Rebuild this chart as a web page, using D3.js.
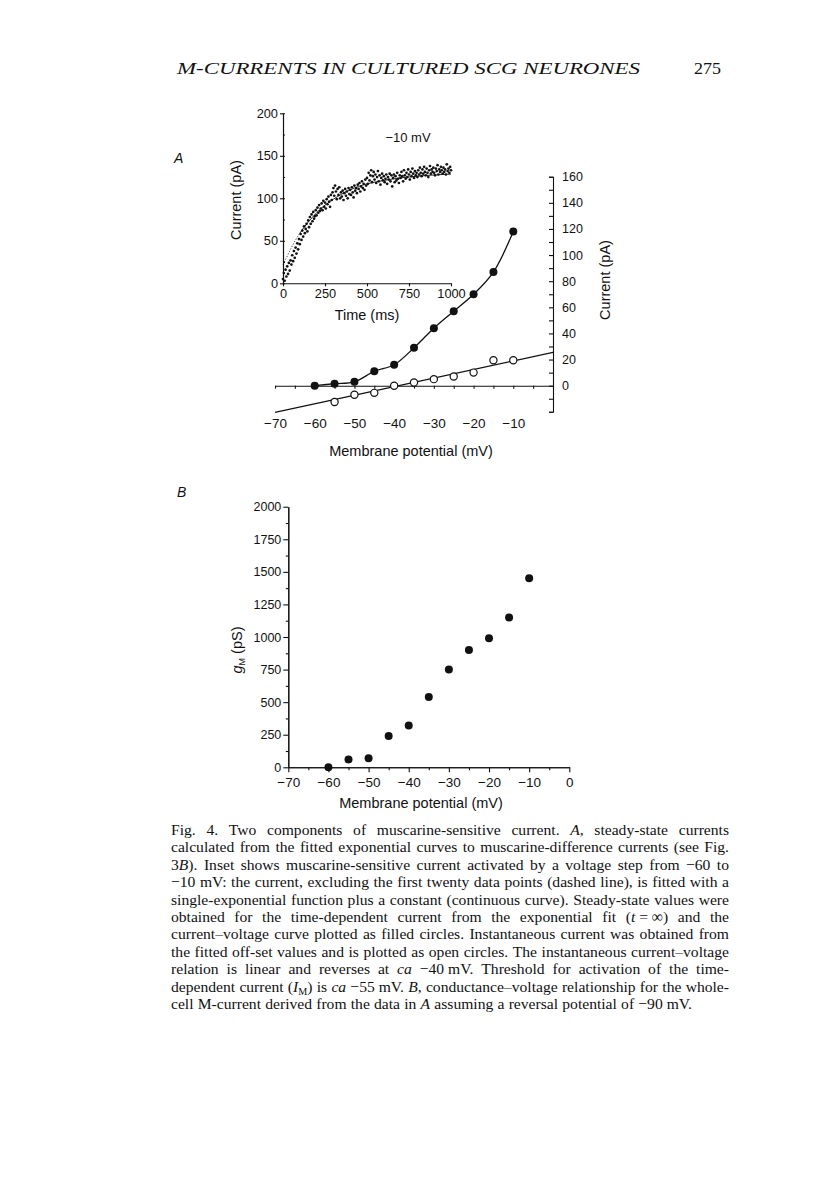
<!DOCTYPE html>
<html>
<head>
<meta charset="utf-8">
<script src="https://cdn.jsdelivr.net/npm/d3@7"></script>
<style>
  body { margin: 0; background: #fff; }
</style>
</head>
<body>
<script>
(function () {
  // panel A, main plot: steady-state (filled) and instantaneous (open) currents
  var voltages = [-60, -55, -50, -45, -40, -35, -30, -25, -20, -15, -10];
  var steadyCurrent = [0, 1.5, 3, 11, 16, 29, 44, 57, 70, 87, 118];
  var instVoltages = [-55, -50, -45, -40, -35, -30, -25, -20, -15, -10];
  var instCurrent = [-12.5, -7, -5.5, 0, 2.5, 5, 7, 10, 19.5, 19.5];
  var instFitV = [-70, 0];
  var instFitI = [-20.5, 25.5];

  // panel A, inset: current trace at -10 mV, one sample every 5 ms
  var sampleMs = 5;
  var traceCurrent = [
    5, 12, 3, 16, 8, 20, 11, 24, 15, 27,
    22, 33, 26, 38, 30, 42, 35, 47, 40, 52,
    46, 58, 51, 62, 55, 67, 59, 64, 70, 61,
    74, 66, 78, 70, 81, 73, 84, 76, 79, 86,
    80, 89, 83, 92, 85, 88, 94, 86, 97, 90,
    95, 88, 99, 93, 102, 96, 90, 104, 98, 107,
    112, 103, 115, 108, 99, 111, 104, 113, 100, 107,
    102, 109, 98, 106, 111, 103, 108, 100, 112, 105,
    110, 104, 113, 107, 101, 115, 109, 112, 106, 116,
    111, 118, 108, 114, 120, 112, 117, 110, 122, 115,
    124, 117, 130, 121, 127, 133, 119, 126, 131, 122,
    128, 118, 125, 132, 120, 127, 116, 124, 129, 121,
    126, 119, 123, 128, 117, 125, 122, 129, 120, 127,
    114, 124, 128, 119, 126, 121, 130, 123, 118, 127,
    124, 131, 126, 120, 133, 127, 123, 130, 125, 134,
    128, 122, 131, 126, 135, 129, 124, 132, 127, 130,
    125, 133, 128, 136, 130, 126, 134, 129, 137, 131,
    127, 135, 130, 125, 133, 138, 129, 134, 131, 136,
    130, 127, 135, 132, 139, 128, 134, 131, 137, 133,
    129, 136, 131, 134, 128, 140, 132, 135, 130, 137,
    133
  ];
  var fitTime = [0, 25, 50, 75, 100, 150, 200, 250, 300, 350, 400, 450, 500, 600, 700, 800, 900, 1000];
  var fitCurrent = [22, 32, 42, 51, 59, 72, 83, 92, 99, 105, 110, 114, 117, 121, 124, 126, 127.5, 128.5];
  var fitDashedUntil = 100;

  // panel B: conductance
  var conductance = [0, 60, 70, 240, 320, 540, 750, 900, 990, 1150, 1450];

  var headerTitle = "M-CURRENTS IN CULTURED SCG NEURONES";
  var pageNumber = "275";
  var captionLines = [
    "Fig. 4. Two components of muscarine-sensitive current. *A*, steady-state currents",
    "calculated from the fitted exponential curves to muscarine-difference currents (see Fig.",
    "3*B*). Inset shows muscarine-sensitive current activated by a voltage step from \u221260 to",
    "\u221210 mV: the current, excluding the first twenty data points (dashed line), is fitted with a",
    "single-exponential function plus a constant (continuous curve). Steady-state values were",
    "obtained for the time-dependent current from the exponential fit (*t*\u00a0=\u00a0\u221e) and the",
    "current\u2013voltage curve plotted as filled circles. Instantaneous current was obtained from",
    "the fitted off-set values and is plotted as open circles. The instantaneous current\u2013voltage",
    "relation is linear and reverses at *ca* \u221240\u00a0mV. Threshold for activation of the time-",
    "dependent current (*I*_M_) is *ca* \u221255\u00a0mV. *B*, conductance\u2013voltage relationship for the whole-",
    "cell M-current derived from the data in *A* assuming a reversal potential of \u221290\u00a0mV."
  ];

  var sans = "'Liberation Sans', Arial, Helvetica, sans-serif";
  var serif = "'Liberation Serif', 'Times New Roman', serif";
  var ink = "#111";
  var plain = d3.format("d");

  var svg = d3.select("body")
    .append("svg")
    .attr("width", 816)
    .attr("height", 1181);

  var styleAxis = function (g, size) {
    g.attr("font-family", sans).attr("font-size", size);
    g.selectAll("path, line").attr("stroke", ink).attr("stroke-width", 1.1);
    g.selectAll("text").attr("fill", ink);
    return g;
  };

  // header
  svg.append("text")
    .attr("x", 177).attr("y", 74)
    .attr("font-family", serif).attr("font-style", "italic").attr("font-size", 17)
    .attr("textLength", 463).attr("lengthAdjust", "spacingAndGlyphs")
    .attr("fill", ink)
    .text(headerTitle);
  svg.append("text")
    .attr("x", 694).attr("y", 74)
    .attr("font-family", serif).attr("font-size", 17)
    .attr("textLength", 27).attr("lengthAdjust", "spacingAndGlyphs")
    .attr("fill", ink)
    .text(pageNumber);

  // ---- panel A main ----
  var xA = d3.scaleLinear().domain([-70, 0]).range([275, 553]);
  var yA = d3.scaleLinear().domain([-20, 160]).range([411.8, 176.7]);

  styleAxis(svg.append("g")
    .attr("transform", "translate(0," + yA(0) + ")")
    .call(d3.axisBottom(xA).tickValues(d3.range(-70, 1, 5)).tickSize(3).tickSizeOuter(0).tickFormat("")), 13);

  var labA = svg.append("g")
    .attr("transform", "translate(0,412)")
    .call(d3.axisBottom(xA).tickValues(d3.range(-70, -9, 10)).tickSize(0).tickPadding(6));
  labA.select(".domain").remove();
  styleAxis(labA, 13.5);

  styleAxis(svg.append("g")
    .attr("transform", "translate(" + xA(0) + ",0)")
    .call(d3.axisRight(yA).tickValues(d3.range(-20, 161, 10)).tickSize(-4).tickSizeOuter(-4).tickPadding(9)
      .tickFormat(function (d) { return d >= 0 && d % 20 === 0 ? d : ""; })), 12.5);

  svg.append("text")
    .attr("transform", "translate(610,280) rotate(-90)")
    .attr("text-anchor", "middle")
    .attr("font-family", sans).attr("font-size", 14.5).attr("fill", ink)
    .text("Current (pA)");

  svg.append("text")
    .attr("x", 411).attr("y", 456)
    .attr("text-anchor", "middle")
    .attr("font-family", sans).attr("font-size", 14.5).attr("fill", ink)
    .text("Membrane potential (mV)");

  svg.append("path")
    .datum(instFitV)
    .attr("fill", "none").attr("stroke", ink).attr("stroke-width", 1.3)
    .attr("d", d3.line()
      .x(function (d) { return xA(d); })
      .y(function (d, i) { return yA(instFitI[i]); }));

  svg.append("path")
    .datum(voltages)
    .attr("fill", "none").attr("stroke", ink).attr("stroke-width", 1.3)
    .attr("d", d3.line()
      .curve(d3.curveCatmullRom.alpha(0.5))
      .x(function (d) { return xA(d); })
      .y(function (d, i) { return yA(steadyCurrent[i]); }));

  svg.selectAll("circle.inst")
    .data(instVoltages)
  .enter()
    .append("circle")
    .attr("class", "inst")
    .attr("r", 3.6)
    .attr("fill", "#fff").attr("stroke", ink).attr("stroke-width", 1.2)
    .attr("cx", function (d) { return xA(d); })
    .attr("cy", function (d, i) { return yA(instCurrent[i]); });

  svg.selectAll("circle.steady")
    .data(voltages)
  .enter()
    .append("circle")
    .attr("class", "steady")
    .attr("r", 4)
    .attr("fill", ink)
    .attr("cx", function (d) { return xA(d); })
    .attr("cy", function (d, i) { return yA(steadyCurrent[i]); });

  svg.append("text")
    .attr("x", 174).attr("y", 163)
    .attr("font-family", sans).attr("font-style", "italic").attr("font-size", 14).attr("fill", ink)
    .text("A");

  // ---- panel A inset ----
  var xI = d3.scaleLinear().domain([0, 1000]).range([283, 451]);
  var yI = d3.scaleLinear().domain([0, 200]).range([283.3, 113.3]);

  styleAxis(svg.append("g")
    .attr("transform", "translate(" + xI(0) + ",0)")
    .call(d3.axisRight(yI).tickValues(d3.range(0, 201, 25)).tickSize(2).tickSizeOuter(0).tickFormat("")), 13);
  styleAxis(svg.append("g")
    .attr("transform", "translate(" + xI(0) + ",0)")
    .call(d3.axisLeft(yI).tickValues([0, 50, 100, 150, 200]).tickSize(3).tickSizeOuter(0).tickPadding(2).tickFormat(plain)), 12.8);
  styleAxis(svg.append("g")
    .attr("transform", "translate(0," + yI(0) + ")")
    .call(d3.axisBottom(xI).tickValues([0, 250, 500, 750, 1000]).tickSize(3).tickSizeOuter(0).tickPadding(3).tickFormat(plain)), 12.8);

  svg.append("text")
    .attr("transform", "translate(241,200) rotate(-90)")
    .attr("text-anchor", "middle")
    .attr("font-family", sans).attr("font-size", 14.5).attr("fill", ink)
    .text("Current (pA)");
  svg.append("text")
    .attr("x", 367).attr("y", 320)
    .attr("text-anchor", "middle")
    .attr("font-family", sans).attr("font-size", 14.5).attr("fill", ink)
    .text("Time (ms)");
  svg.append("text")
    .attr("x", 408).attr("y", 142)
    .attr("text-anchor", "middle")
    .attr("font-family", sans).attr("font-size", 13).attr("fill", ink)
    .text("\u221210 mV");

  var fitLine = d3.line()
    .curve(d3.curveMonotoneX)
    .x(function (d) { return xI(d.t); })
    .y(function (d) { return yI(d.i); });
  var fitPts = fitTime.map(function (t, k) { return { t: t, i: fitCurrent[k] }; });

  svg.append("path")
    .datum(fitPts.filter(function (d) { return d.t <= fitDashedUntil; }))
    .attr("fill", "none").attr("stroke", ink).attr("stroke-width", 0.8)
    .attr("stroke-dasharray", "1.2,1.6")
    .attr("d", fitLine);
  svg.append("path")
    .datum(fitPts.filter(function (d) { return d.t >= fitDashedUntil; }))
    .attr("fill", "none").attr("stroke", ink).attr("stroke-width", 0.9)
    .attr("d", fitLine);

  svg.selectAll("circle.trace")
    .data(traceCurrent)
  .enter()
    .append("circle")
    .attr("class", "trace")
    .attr("r", 1.35)
    .attr("fill", ink)
    .attr("cx", function (d, k) { return xI(k * sampleMs); })
    .attr("cy", function (d) { return yI(d); });

  // ---- panel B ----
  var xB = d3.scaleLinear().domain([-70, 0]).range([288.3, 569.3]);
  var yB = d3.scaleLinear().domain([0, 2000]).range([767.3, 506.7]);

  styleAxis(svg.append("g")
    .attr("transform", "translate(" + xB(-70) + ",0)")
    .call(d3.axisLeft(yB).tickValues(d3.range(125, 2000, 250)).tickSize(2.5).tickSizeOuter(0).tickFormat("")), 12.5);
  styleAxis(svg.append("g")
    .attr("transform", "translate(" + xB(-70) + ",0)")
    .call(d3.axisLeft(yB).tickValues(d3.range(0, 2001, 250)).tickSize(5).tickSizeOuter(0).tickPadding(2).tickFormat(plain)), 12.5);
  styleAxis(svg.append("g")
    .attr("transform", "translate(0," + yB(0) + ")")
    .call(d3.axisBottom(xB).tickValues(d3.range(-65, 0, 10)).tickSize(3).tickSizeOuter(0).tickFormat("")), 12.5);
  styleAxis(svg.append("g")
    .attr("transform", "translate(0," + yB(0) + ")")
    .call(d3.axisBottom(xB).tickValues(d3.range(-70, 1, 10)).tickSize(5).tickSizeOuter(0).tickPadding(5)), 13.5);

  var gLab = svg.append("text")
    .attr("transform", "translate(242,650) rotate(-90)")
    .attr("text-anchor", "middle")
    .attr("font-family", sans).attr("font-size", 14.5).attr("fill", ink);
  gLab.append("tspan").attr("font-style", "italic").text("g");
  gLab.append("tspan").attr("font-size", 9).attr("dy", 3).text("M");
  gLab.append("tspan").attr("dy", -3).text(" (pS)");

  svg.append("text")
    .attr("x", 421).attr("y", 808)
    .attr("text-anchor", "middle")
    .attr("font-family", sans).attr("font-size", 14.5).attr("fill", ink)
    .text("Membrane potential (mV)");

  svg.selectAll("circle.cond")
    .data(voltages)
  .enter()
    .append("circle")
    .attr("class", "cond")
    .attr("r", 4)
    .attr("fill", ink)
    .attr("cx", function (d) { return xB(d); })
    .attr("cy", function (d, i) { return yB(conductance[i]); });

  svg.append("text")
    .attr("x", 177).attr("y", 497)
    .attr("font-family", sans).attr("font-style", "italic").attr("font-size", 14).attr("fill", ink)
    .text("B");

  // ---- caption, justified word by word ----
  var addSegments = function (t, word) {
    var italic = false, sub = false, buf = "", segs = [];
    var flush = function () {
      if (buf) segs.push({ s: buf, it: italic, sub: sub });
      buf = "";
    };
    for (var k = 0; k < word.length; k++) {
      var ch = word[k];
      if (ch === "*") { flush(); italic = !italic; }
      else if (ch === "_") { flush(); sub = !sub; }
      else buf += ch;
    }
    flush();
    var wasSub = false;
    segs.forEach(function (sg) {
      var ts = t.append("tspan").text(sg.s);
      if (sg.it) ts.attr("font-style", "italic");
      if (sg.sub) ts.attr("font-size", "0.65em").attr("dy", 3);
      else if (wasSub) ts.attr("dy", -3);
      wasSub = sg.sub;
    });
  };

  var capX0 = 171, capX1 = 729, capY0 = 835, capLH = 17.4, minGap = 4.2, baseSize = 14;
  var cap = svg.append("g")
    .attr("font-family", serif).attr("font-size", baseSize).attr("fill", ink);

  var rows = captionLines.map(function (line, i) {
    return line.split(" ").map(function (w) {
      var t = cap.append("text").attr("y", capY0 + i * capLH);
      addSegments(t, w);
      return t;
    });
  });

  var measure = function (row) {
    return row.map(function (t) { return t.node().getComputedTextLength(); });
  };

  // grow the font until the tightest justified line has only a normal word gap
  var scale = d3.min(rows.slice(0, -1), function (row) {
    return (capX1 - capX0 - (row.length - 1) * minGap) / d3.sum(measure(row));
  });
  cap.attr("font-size", baseSize * scale);

  rows.forEach(function (row, i) {
    var widths = measure(row);
    var last = i === rows.length - 1;
    var gap = last ? minGap : (capX1 - capX0 - d3.sum(widths)) / (row.length - 1);
    var x = capX0;
    row.forEach(function (t, j) {
      t.attr("x", x);
      x += widths[j] + gap;
    });
  });
})();
</script>
</body>
</html>
